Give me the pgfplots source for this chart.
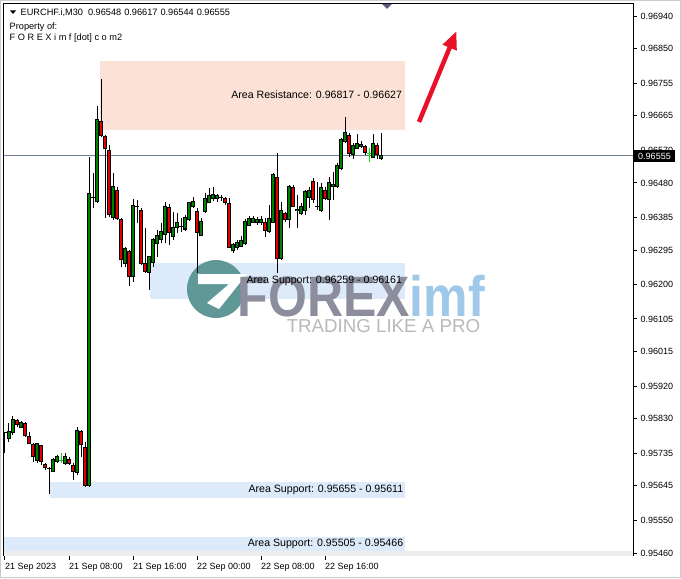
\documentclass[border=0pt]{standalone}
\usepackage{pgfplots}
\pgfplotsset{compat=1.18}
\usepackage{pgfplotstable}
\usepackage{graphicx}
\usepackage{fontspec}
\setmainfont{Liberation Sans}
\usetikzlibrary{arrows.meta}

\definecolor{bull}{RGB}{0,128,0}
\definecolor{bear}{RGB}{228,0,0}
\definecolor{dojilime}{RGB}{0,230,0}
\definecolor{resfill}{RGB}{252,226,214}
\definecolor{supfill}{RGB}{220,234,250}
\definecolor{priceline}{RGB}{112,128,144}
\definecolor{logoteal}{RGB}{96,152,152}
\definecolor{wmgray}{RGB}{140,142,158}
\definecolor{wmblue}{RGB}{160,200,232}
\definecolor{wmlight}{RGB}{185,185,185}
\definecolor{arrowred}{RGB}{232,18,40}

% EURCHF M30 bars, i = bar number from 21 Sep 00:00, t = 1 for the lime doji bars
\pgfplotstableread{
i o h l c t
0 0.95791 0.95794 0.95736 0.95791 0
1 0.95777 0.95818 0.95766 0.95796 0
2 0.95791 0.95838 0.95785 0.95829 0
3 0.95824 0.95829 0.95807 0.95813 0
4 0.95807 0.95824 0.95805 0.95821 0
5 0.95818 0.95821 0.95780 0.95785 0
6 0.95782 0.95794 0.95763 0.95763 0
7 0.95758 0.95763 0.95711 0.95725 0
8 0.95716 0.95763 0.95708 0.95763 0
9 0.95755 0.95758 0.95703 0.95711 0
10 0.95705 0.95708 0.95689 0.95697 0
11 0.95694 0.95697 0.95623 0.95694 0
12 0.95686 0.95722 0.95683 0.95719 0
13 0.95711 0.95730 0.95708 0.95725 0
14 0.95716 0.95736 0.95708 0.95716 1
15 0.95708 0.95736 0.95703 0.95727 0
16 0.95719 0.95725 0.95703 0.95708 0
17 0.95700 0.95708 0.95661 0.95686 0
18 0.95681 0.95807 0.95675 0.95799 0
19 0.95794 0.95799 0.95725 0.95758 0
20 0.95752 0.95766 0.95642 0.95647 0
21 0.95647 0.96551 0.95642 0.96452 0
22 0.96441 0.96507 0.96411 0.96441 0
23 0.96430 0.96692 0.96425 0.96656 0
24 0.96648 0.96766 0.96607 0.96612 0
25 0.96609 0.96612 0.96383 0.96576 0
26 0.96568 0.96584 0.96386 0.96392 0
27 0.96386 0.96507 0.96378 0.96469 0
28 0.96460 0.96469 0.96378 0.96383 0
29 0.96378 0.96383 0.96248 0.96268 0
30 0.96259 0.96303 0.96248 0.96298 0
31 0.96290 0.96295 0.96196 0.96223 0
32 0.96221 0.96436 0.96207 0.96419 0
33 0.96414 0.96433 0.96370 0.96414 0
34 0.96405 0.96411 0.96254 0.96259 0
35 0.96257 0.96356 0.96232 0.96237 0
36 0.96232 0.96276 0.96185 0.96276 0
37 0.96262 0.96328 0.96248 0.96323 0
38 0.96314 0.96350 0.96276 0.96334 0
39 0.96325 0.96370 0.96314 0.96347 0
40 0.96339 0.96427 0.96314 0.96416 0
41 0.96411 0.96422 0.96309 0.96342 0
42 0.96331 0.96400 0.96323 0.96358 0
43 0.96356 0.96397 0.96342 0.96370 0
44 0.96361 0.96383 0.96345 0.96361 0
45 0.96353 0.96392 0.96347 0.96386 0
46 0.96378 0.96425 0.96375 0.96425 0
47 0.96414 0.96441 0.96411 0.96430 0
48 0.96400 0.96411 0.96232 0.96342 0
49 0.96336 0.96383 0.96334 0.96375 0
50 0.96400 0.96452 0.96397 0.96436 0
51 0.96427 0.96466 0.96425 0.96444 0
52 0.96438 0.96469 0.96430 0.96449 0
53 0.96438 0.96449 0.96427 0.96444 0
54 0.96441 0.96447 0.96430 0.96441 0
55 0.96436 0.96441 0.96419 0.96425 0
56 0.96422 0.96438 0.96301 0.96303 0
57 0.96295 0.96314 0.96287 0.96309 0
58 0.96301 0.96323 0.96295 0.96317 0
59 0.96306 0.96334 0.96303 0.96320 0
60 0.96312 0.96381 0.96309 0.96375 0
61 0.96364 0.96389 0.96361 0.96383 0
62 0.96372 0.96389 0.96370 0.96381 0
63 0.96370 0.96386 0.96364 0.96378 0
64 0.96370 0.96389 0.96364 0.96378 0
65 0.96372 0.96383 0.96331 0.96350 0
66 0.96345 0.96419 0.96342 0.96381 0
67 0.96372 0.96507 0.96370 0.96502 0
68 0.96494 0.96562 0.96232 0.96273 0
69 0.96273 0.96427 0.96268 0.96405 0
70 0.96397 0.96400 0.96372 0.96378 0
71 0.96378 0.96474 0.96356 0.96469 0
72 0.96466 0.96474 0.96414 0.96414 0
73 0.96405 0.96447 0.96356 0.96408 0
74 0.96397 0.96425 0.96392 0.96414 0
75 0.96405 0.96460 0.96392 0.96455 0
76 0.96441 0.96469 0.96411 0.96460 0
77 0.96483 0.96494 0.96425 0.96433 0
78 0.96414 0.96483 0.96405 0.96416 0
79 0.96405 0.96480 0.96400 0.96466 0
80 0.96460 0.96469 0.96433 0.96438 0
81 0.96433 0.96496 0.96378 0.96480 0
82 0.96471 0.96510 0.96433 0.96477 0
83 0.96469 0.96535 0.96466 0.96529 0
84 0.96521 0.96604 0.96516 0.96601 0
85 0.96593 0.96662 0.96590 0.96618 0
86 0.96612 0.96618 0.96551 0.96562 0
87 0.96557 0.96590 0.96546 0.96582 0
88 0.96576 0.96615 0.96573 0.96590 0
89 0.96579 0.96596 0.96576 0.96587 0
90 0.96579 0.96584 0.96557 0.96565 0
91 0.96560 0.96576 0.96538 0.96560 1
92 0.96551 0.96615 0.96549 0.96590 0
93 0.96582 0.96590 0.96546 0.96557 0
94 0.96548 0.96617 0.96544 0.96555 0
}\candles

\newcommand{\labfont}{\fontsize{9}{10}\selectfont}
\newcommand{\areafont}{\fontsize{10.6}{12}\selectfont}

\begin{document}
\begin{tikzpicture}
\useasboundingbox (0,0) rectangle (681pt,579pt);
\fill[white] (0,0) rectangle (681pt,579pt);
\draw[gray!40, line width=1pt] (0.5pt,1.5pt) rectangle (680.5pt,578.5pt);

\begin{axis}[
  at={(4pt,23pt)}, anchor=south west,
  scale only axis, width=629pt, height=552pt,
  xmin=-0.25, xmax=157,
  ymin=0.954518, ymax=0.969731,
  axis line style={black, line width=1pt},
  tick style={black, line width=1pt},
  tick align=outside, major tick length=4pt,
  xtick pos=left, ytick pos=right,
  yticklabel pos=right,
  xtick={0,16,32,48,64,80},
  xticklabels={21 Sep 2023, 21 Sep 08:00, 21 Sep 16:00, 22 Sep 00:00, 22 Sep 08:00, 22 Sep 16:00},
  xticklabel style={anchor=north west, inner xsep=0pt, font=\labfont},
  ytick={0.95460,0.95550,0.95645,0.95735,0.95830,0.95920,0.96015,0.96105,0.96200,0.96295,0.96385,0.96480,0.96570,0.96665,0.96755,0.96850,0.96940},
  scaled y ticks=false,
  yticklabel style={font=\labfont, anchor=west,
    /pgf/number format/.cd, fixed, fixed zerofill, precision=5, assume math mode=true},
]

% zones
\addplot[draw=none, fill=resfill] coordinates {(23.75,0.96627) (100,0.96627) (100,0.96817) (23.75,0.96817)};
\addplot[draw=none, fill=supfill] coordinates {(36.25,0.96161) (100,0.96161) (100,0.96259) (36.25,0.96259)};
\addplot[draw=none, fill=supfill] coordinates {(11.25,0.95611) (100,0.95611) (100,0.95655) (11.25,0.95655)};
\addplot[draw=none, fill=supfill] coordinates {(-0.25,0.95466) (100,0.95466) (100,0.95505) (-0.25,0.95505)};
\addplot[draw=none, fill=black!7] coordinates {(-0.25,0.954518) (157,0.954518) (157,0.95466) (-0.25,0.95466)};

% watermark
\fill[logoteal, shift={(axis cs:52.75,0.961876)}] (0pt,0pt) circle[radius=29pt];
\fill[white, shift={(axis cs:52.75,0.961876)}] (-18pt,15pt) -- (31pt,15pt) -- (3pt,-20pt) -- (-9pt,-14pt) -- (13pt,5pt) -- (-18pt,5pt) -- cycle;
\node[anchor=base west, inner sep=0pt] at (axis cs:58.1,0.961132)
  {\scalebox{1}[1.14]{\fontsize{50}{50}\selectfont\bfseries\textcolor{wmgray}{FOREX}\textcolor{wmblue}{imf}}};
\node[anchor=base west, inner sep=0pt, text=wmlight] at (axis cs:70.4,0.960664)
  {\fontsize{18.7}{20}\selectfont TRADING LIKE A PRO};

% current price line
\addplot[priceline, line width=1pt] coordinates {(-0.25,0.96555) (157,0.96555)};

% wicks
\addplot[draw=none, mark=none,
  restrict expr to domain={\thisrow{t}}{-0.5:0.5},
  error bars/.cd, y dir=minus, y explicit, error mark=none,
  error bar style={draw=black, line width=1pt}]
  table[x=i, y=h, y error expr=\thisrow{h}-\thisrow{l}] {\candles};
\addplot[draw=none, mark=none,
  restrict expr to domain={\thisrow{t}}{0.5:1.5},
  error bars/.cd, y dir=minus, y explicit, error mark=none,
  error bar style={draw=dojilime, line width=1pt}]
  table[x=i, y=h, y error expr=\thisrow{h}-\thisrow{l}] {\candles};

% bodies: black frame, then coloured core
\addplot[draw=none, mark=none,
  restrict expr to domain={abs(\thisrow{c}-\thisrow{o})}{0.000001:1},
  error bars/.cd, y dir=plus, y explicit, error mark=none,
  error bar style={draw=black, line width=3.2pt}]
  table[x=i, y expr={min(\thisrow{o},\thisrow{c})-0.0000138},
        y error expr={abs(\thisrow{c}-\thisrow{o})+0.0000276}] {\candles};
\addplot[draw=none, mark=none,
  restrict expr to domain={\thisrow{c}-\thisrow{o}}{0.00003:1},
  error bars/.cd, y dir=plus, y explicit, error mark=none,
  error bar style={draw=bull, line width=1.3pt}]
  table[x=i, y expr={\thisrow{o}+0.0000138},
        y error expr={\thisrow{c}-\thisrow{o}-0.0000276}] {\candles};
\addplot[draw=none, mark=none,
  restrict expr to domain={\thisrow{o}-\thisrow{c}}{0.00003:1},
  error bars/.cd, y dir=plus, y explicit, error mark=none,
  error bar style={draw=bear, line width=1.3pt}]
  table[x=i, y expr={\thisrow{c}+0.0000138},
        y error expr={\thisrow{o}-\thisrow{c}-0.0000276}] {\candles};

% doji ticks
\addplot[only marks, mark=-, mark size=1.8pt, mark options={black, line width=1pt},
  restrict expr to domain={abs(\thisrow{c}-\thisrow{o})+\thisrow{t}}{-0.000001:0.000001}]
  table[x=i, y=o] {\candles};
\addplot[only marks, mark=-, mark size=2.2pt, mark options={dojilime, line width=1pt},
  restrict expr to domain={\thisrow{t}}{0.5:1.5}]
  table[x=i, y=o] {\candles};

% zone labels
\node[anchor=east, inner sep=0pt, font=\areafont] at (axis cs:99.3,0.96722) {Area Resistance: 0.96817 - 0.96627};
\node[anchor=east, inner sep=0pt, font=\areafont] at (axis cs:99.3,0.96210) {Area Support: 0.96259 - 0.96161};
\node[anchor=east, inner sep=0pt, font=\areafont] at (axis cs:99.6,0.95633) {Area Support: 0.95655 - 0.95611};
\node[anchor=east, inner sep=0pt, font=\areafont] at (axis cs:99.6,0.954855) {Area Support: 0.95505 - 0.95466};
\end{axis}

% header text
\fill[black] (10pt,568.5pt) -- (16pt,568.5pt) -- (13pt,565pt) -- cycle;
\node[anchor=base west, inner sep=0pt, font=\fontsize{9.2}{10}\selectfont] at (20.5pt,563.5pt)
  {EURCHF.i,M30\hspace{5pt}0.96548\hspace{3pt}0.96617\hspace{3pt}0.96544\hspace{3pt}0.96555};
\node[anchor=base west, inner sep=0pt, font=\fontsize{9.2}{10}\selectfont] at (9.5pt,549.5pt) {Property of:};
\node[anchor=base west, inner sep=0pt, font=\fontsize{9.2}{10}\selectfont] at (9.5pt,538.5pt) {F O R E X i m f [dot] c o m2};

% current price box
\fill[black] (634pt,417pt) rectangle (675pt,429pt);
\node[text=white, inner sep=0pt, font=\labfont] at (654.5pt,423pt) {0.96555};

% red arrow and shift marker
\draw[arrowred, line width=4.5pt, -{Triangle[length=18pt, width=14pt]}] (419pt,457pt) -- (456.5pt,548pt);
\fill[black!45!blue!30!gray] (382pt,575pt) -- (392pt,575pt) -- (387pt,570pt) -- cycle;
\end{tikzpicture}
\end{document}
